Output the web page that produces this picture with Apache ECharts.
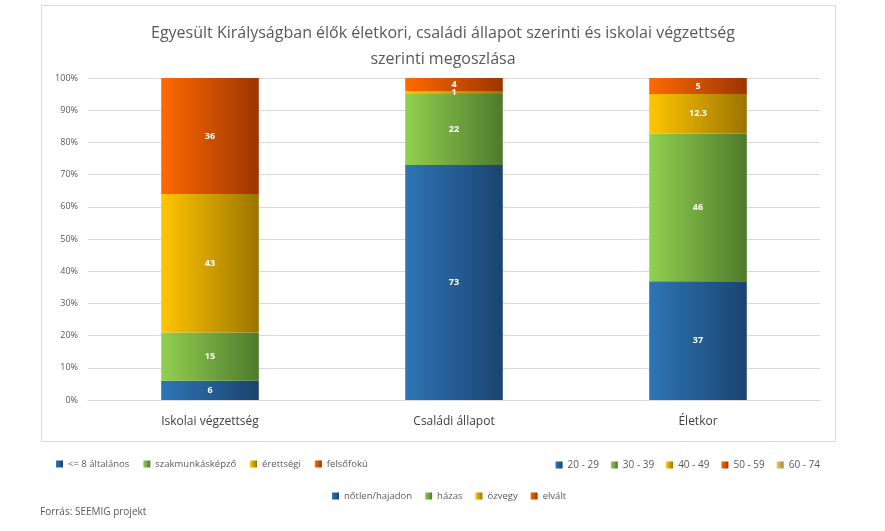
<!DOCTYPE html>
<html><head><meta charset="utf-8">
<script src="https://cdn.jsdelivr.net/npm/echarts@6/dist/echarts.min.js"></script>
<style>html,body{margin:0;padding:0;background:#fff}#c{width:885px;height:531px}</style>
</head><body><div id="c"></div>
<script>
const categories = ['Iskolai végzettség', 'Családi állapot', 'Életkor'];
const yTicks = [0,10,20,30,40,50,60,70,80,90,100];
// Iskolai végzettség
const eduNames = ['<= 8 általános', 'szakmunkásképző', 'érettségi', 'felsőfokú'];
const eduValues = [6, 15, 43, 36];
// Családi állapot
const maritalNames = ['nőtlen/hajadon', 'házas', 'özvegy', 'elvált'];
const maritalValues = [73, 22, 1, 4];
// Életkor
const ageNames = ['20 - 29', '30 - 39', '40 - 49', '50 - 59', '60 - 74'];
const ageValues = [37, 46, 12.3, 5, 0];

const palette = [
  ['#2e75b6', '#1a4470'],
  ['#92d050', '#4e7a2c'],
  ['#ffc600', '#9c7400'],
  ['#ff6a00', '#9c3500'],
  ['#e6c36a', '#a88a3c']
];
function grad(i){
  return {type:'linear',x:0,y:0,x2:1,y2:0,colorStops:[{offset:0,color:palette[i][0]},{offset:1,color:palette[i][1]}]};
}
const series = [];
function addGroup(names, values, catIdx){
  const total = values.reduce((a,b)=>a+b,0);
  names.forEach((n,i)=>{
    const data = categories.map((c,j)=> j===catIdx ? {value: values[i]/total*100, raw: values[i]} : '-');
    series.push({
      name:n, type:'bar', stack:'all', barWidth:'40%',
      itemStyle:{color:grad(i)},
      label:{show:true, position:'inside', color:'#fff', fontSize:9, fontWeight:'bold', fontFamily:'Open Sans',
        formatter:p=> (p.data && p.data.raw) ? String(p.data.raw) : ''},
      data
    });
  });
}
addGroup(eduNames, eduValues, 0);
addGroup(maritalNames, maritalValues, 1);
addGroup(ageNames, ageValues, 2);

const legendText = {color:'#595959', fontSize:9.5, fontFamily:'Open Sans'};
const chart = echarts.init(document.getElementById('c'));
chart.setOption({
  animation:false,
  title:{text:'Egyesült Királyságban élők életkori, családi állapot szerinti és iskolai végzettség\nszerinti megoszlása',
    left:438, top:15, textAlign:'center',
    textStyle:{fontSize:16, fontWeight:'normal', color:'#595959', fontFamily:'Open Sans', lineHeight:26}},
  graphic:[
    {type:'rect', shape:{x:41.5, y:5.5, width:794, height:436}, style:{fill:'none', stroke:'#d9d9d9', lineWidth:1}, z:-1},
    {type:'text', left:40, top:507, style:{text:'Forrás: SEEMIG projekt', fill:'#595959', fontSize:10, fontFamily:'Open Sans'}}
  ],
  legend:[
    {data:eduNames, left:51, top:454, itemWidth:7, itemHeight:7, itemGap:14, itemStyle:{}, textStyle:legendText, icon:'rect'},
    {data:ageNames, right:60, top:455, itemWidth:7, itemHeight:7, itemGap:12, textStyle:{color:'#595959', fontSize:10, fontFamily:'Open Sans'}, icon:'rect'},
    {data:maritalNames, left:327, top:486, itemWidth:7, itemHeight:7, itemGap:13, textStyle:legendText, icon:'rect'}
  ],
  grid:{left:88, right:65, top:78, bottom:131},
  xAxis:{type:'category', data:categories,
    axisLine:{lineStyle:{color:'#d9d9d9'}}, axisTick:{show:false},
    axisLabel:{color:'#404040', fontSize:12, fontFamily:'Open Sans', margin:16}},
  yAxis:{type:'value', min:0, max:100, interval:10,
    axisLabel:{formatter:v=>yTicks.includes(v)?v+'%':'', color:'#595959', fontSize:9, fontFamily:'Open Sans', margin:10},
    splitLine:{lineStyle:{color:'#d9d9d9'}}, axisLine:{show:false}, axisTick:{show:false}},
  series
});
</script></body></html>
